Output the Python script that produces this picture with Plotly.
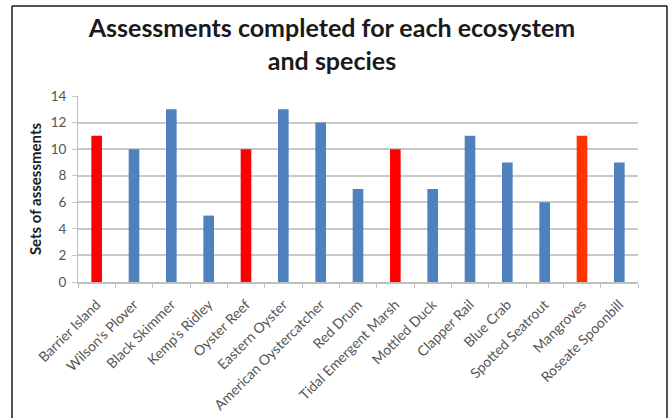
import plotly.graph_objects as go

categories = ["Barrier Island", "Wilson's Plover", "Black Skimmer", "Kemp's Ridley",
              "Oyster Reef", "Eastern Oyster", "American Oystercatcher", "Red Drum",
              "Tidal Emergent Marsh", "Mottled Duck", "Clapper Rail", "Blue Crab",
              "Spotted Seatrout", "Mangroves", "Roseate Spoonbill"]
values = [11, 10, 13, 5, 10, 13, 12, 7, 10, 7, 11, 9, 6, 11, 9]
colors = ["#FF0000", "#4F81BD", "#4F81BD", "#4F81BD", "#FF0000", "#4F81BD", "#4F81BD",
          "#4F81BD", "#FF0000", "#4F81BD", "#4F81BD", "#4F81BD", "#4F81BD", "#FF3300",
          "#4F81BD"]
y_ticks = [0, 2, 4, 6, 8, 10, 12, 14]

W, H = 671, 418
L, R, T, B = 78, 33, 96, 136
pw, ph = W - L - R, H - T - B

def px2x(p):
    return (p - L) / pw

def py2y(p):
    return (H - B - p) / ph

fig = go.Figure(go.Bar(x=categories, y=values, marker=dict(color=colors, line=dict(width=0)),
                       width=0.285))

fig.update_layout(
    width=W, height=H,
    margin=dict(l=L, r=R, t=T, b=B),
    paper_bgcolor="white", plot_bgcolor="white",
    font=dict(family="Lato, Open Sans, sans-serif", color="#595959"),
    title=dict(text="<b>Assessments completed for each ecosystem<br>and species</b>",
               x=px2x(332), xref="paper", xanchor="center", y=1 - 37 / H, yanchor="middle",
               font=dict(size=25, color="#1a1a1a", family="Lato, Open Sans, sans-serif")),
    showlegend=False,
    xaxis=dict(tickangle=-45, tickfont=dict(size=14, color="#555555"),
               showline=True, linecolor="#BFBFBF", linewidth=2,
               ticks="outside", tickson="boundaries", ticklen=4, tickcolor="#BFBFBF",
               ticklabelstandoff=7,
               showgrid=False, range=[-0.5, 14.5], automargin=False),
    yaxis=dict(range=[0, 14], tickvals=y_ticks, tickfont=dict(size=13.5, color="#555555"),
               showgrid=True, gridcolor="#C8C8C8", gridwidth=1.5,
               showline=True, linecolor="#BFBFBF", linewidth=1,
               ticks="outside", ticklen=5, tickcolor="#C8C8C8",
               ticklabelstandoff=3,
               zeroline=False, automargin=False,
               title=dict(text="<b>Sets of assessments</b>", font=dict(size=15, color="#1a1a1a"),
                          standoff=5)),
    shapes=[
        dict(type="line", xref="paper", yref="paper", x0=px2x(12), x1=px2x(12),
             y0=py2y(6), y1=py2y(430), line=dict(color="#1a1a1a", width=1.5)),
        dict(type="line", xref="paper", yref="paper", x0=px2x(667), x1=px2x(667),
             y0=py2y(6), y1=py2y(430), line=dict(color="#1a1a1a", width=1.5)),
        dict(type="line", xref="paper", yref="paper", x0=px2x(12), x1=px2x(667),
             y0=py2y(6), y1=py2y(6), line=dict(color="#1a1a1a", width=1.5)),
    ],
)

fig.write_html("out.html", config={"displayModeBar": False},
               post_script="document.body.style.margin='0px';")
